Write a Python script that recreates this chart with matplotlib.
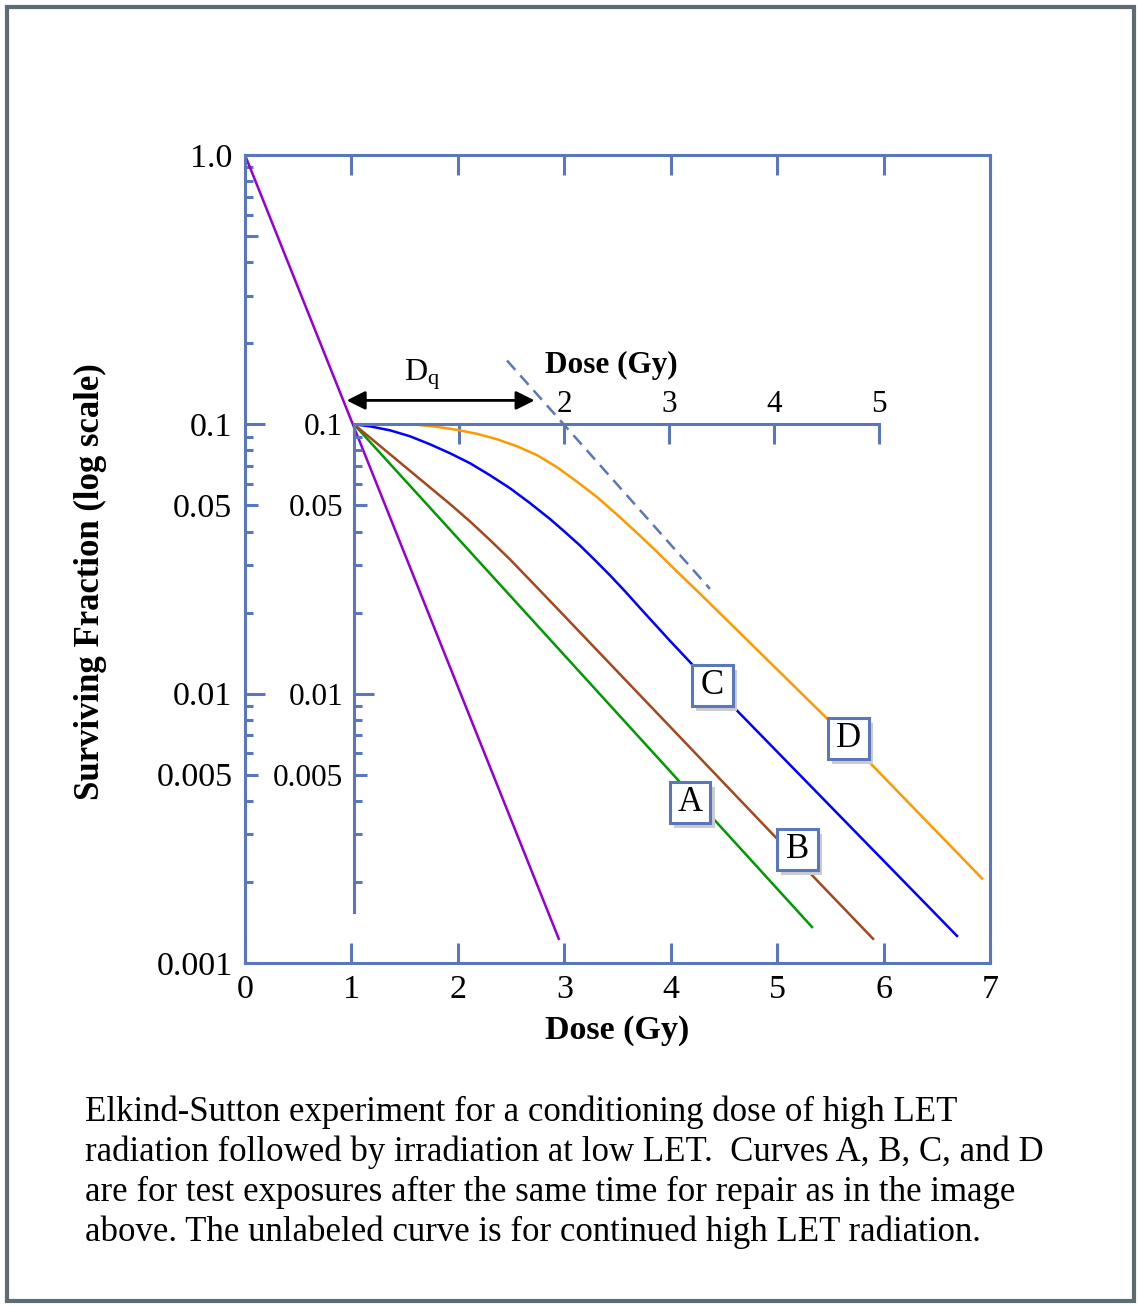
import matplotlib
matplotlib.use('Agg')
import matplotlib.pyplot as plt
import matplotlib.patheffects as pe
from matplotlib.patches import Rectangle
from matplotlib.ticker import NullFormatter

plt.rcParams['font.family'] = ['Liberation Serif', 'DejaVu Serif']
plt.rcParams['mathtext.fontset'] = 'custom'
plt.rcParams['mathtext.rm'] = 'Liberation Serif'
plt.rcParams['mathtext.it'] = 'Liberation Serif:italic'

# --- data ---
# continued high LET curve, main dose axis
high_let_dose = [0, 2.948]
high_let_sf = [1.0, 0.00123]

# test exposures, dose measured on the inner axis
dose_a = [0, 4.362]
sf_a = [0.1, 0.00136]

dose_b = [0, 0.914, 1.105, 1.295, 1.486, 1.676, 1.962, 3.990, 4.943]
sf_b = [0.1, 0.0506, 0.0436, 0.0372, 0.0315, 0.0264, 0.0202, 0.0030, 0.00123]

dose_c = [0, 0.152, 0.343, 0.533, 0.724, 0.914, 1.105, 1.295, 1.486, 1.676,
          1.867, 2.010, 2.152, 2.295, 2.438, 2.581, 2.724, 3.010, 3.219, 3.676,
          5.743]
sf_c = [0.1, 0.0983, 0.0950, 0.0903, 0.0843, 0.0781, 0.0717, 0.0647, 0.0579,
        0.0510, 0.0445, 0.0398, 0.0355, 0.0313, 0.0275, 0.0240, 0.0208, 0.0157,
        0.01286, 0.00843, 0.00126]

dose_d = [0.390, 0.600, 0.790, 0.981, 1.171, 1.362, 1.552, 1.743, 1.933, 2.124,
          2.314, 2.505, 2.695, 2.886, 3.076, 3.295, 4.486, 5.981]
sf_d = [0.1, 0.0996, 0.0979, 0.0954, 0.0922, 0.0880, 0.0829, 0.0768, 0.0693,
        0.0612, 0.0537, 0.0462, 0.0395, 0.0336, 0.0284, 0.0235, 0.00822, 0.00206]

# dashed extrapolation line
dose_tan = [1.457, 3.390]
sf_tan = [0.1726, 0.0245]

curve_names = ['A', 'B', 'C', 'D']
label_dose = [3.20, 4.22, 3.41, 4.705]
label_sf = [0.00395, 0.00264, 0.0107, 0.0068]

dq_start, dq_end, dq_sf = -0.07, 1.72, 0.1227
dq_text_dose, dq_text_sf = 0.65, 0.153

main_yticks = [0.001, 0.005, 0.01, 0.05, 0.1, 0.5, 1.0]
main_ylabels = ['0.001', '0.005', '0.01', '0.05', '0.1', '', '1.0']
inner_yticks = [0.005, 0.01, 0.05, 0.1]
inner_ylabels = ['0.005', '0.01', '0.05', '0.1']
inner_xticks = [1, 2, 3, 4, 5]
inner_xlabels = ['', '2', '3', '4', '5']

caption_lines = [
    'Elkind-Sutton experiment for a conditioning dose of high LET',
    'radiation followed by irradiation at low LET.  Curves A, B, C, and D',
    'are for test exposures after the same time for repair as in the image',
    'above. The unlabeled curve is for continued high LET radiation.',
]

axc = '#5b77bb'
W, H = 1138, 1306

fig = plt.figure(figsize=(W / 100, H / 100), dpi=100)
rect = [245 / W, 1 - 963 / H, 745 / W, 808 / H]
ax = fig.add_axes(rect)

ax.set_yscale('log')
ax.set_xlim(0, 7)
ax.set_ylim(0.001, 1.0)
ax.set_xticks(range(8))
minor = [k * 10.0 ** e for e in (-3, -2, -1) for k in (2, 3, 4, 6, 7, 8, 9)]
ax.set_yticks(main_yticks)
ax.set_yticklabels(main_ylabels)
ax.set_yticks(minor, minor=True)
ax.yaxis.set_minor_formatter(NullFormatter())
for s in ax.spines.values():
    s.set_color(axc)
    s.set_linewidth(2.2)
ax.tick_params(axis='x', direction='in', length=14.5, width=2.2, color=axc,
               top=True, labeltop=False, labelsize=24.5, pad=8)
ax.tick_params(axis='y', which='major', direction='in', length=9.5, width=2.2,
               color=axc, right=False, labelsize=24.5, pad=9)
ax.tick_params(axis='y', which='minor', direction='in', length=5.8, width=2.2,
               color=axc, right=False)
for t, loc in zip(ax.yaxis.get_major_ticks(), main_yticks):
    if loc in (0.01, 0.1):
        t.tick1line.set_markersize(14.5)

ax.plot(high_let_dose, high_let_sf, color='#9400d3', lw=1.8)

ax.set_xlabel('Dose (Gy)', fontsize=24.5, fontweight='bold', va='center')
ax.xaxis.set_label_coords(0.5, -0.083)
ax.set_ylabel('Surviving Fraction (log scale)', fontsize=25, fontweight='bold',
              va='center')
ax.yaxis.set_label_coords(-0.207, 0.4715)

# inner axis for the test dose
ax2 = fig.add_axes(rect)
ax2.patch.set_visible(False)
ax2.set_yscale('log')
ax2.set_xlim(-1.038, 6.057)
ax2.set_ylim(0.001, 1.0)
ax2.spines['bottom'].set_visible(False)
ax2.spines['right'].set_visible(False)
ax2.spines['left'].set_position(('data', 0))
ax2.spines['left'].set_bounds(0.00155, 0.1)
ax2.spines['top'].set_position(('data', 0.1))
ax2.spines['top'].set_bounds(0, 5)
for s in ('left', 'top'):
    ax2.spines[s].set_color(axc)
    ax2.spines[s].set_linewidth(2.2)
ax2.xaxis.set_ticks_position('top')
ax2.set_xticks(inner_xticks)
ax2.set_xticklabels(inner_xlabels)
ax2.yaxis.set_ticks_position('left')
ax2.set_yticks(inner_yticks)
ax2.set_yticklabels(inner_ylabels)
ax2.set_yticks([m for m in minor if m < 0.1], minor=True)
ax2.yaxis.set_minor_formatter(NullFormatter())
ax2.tick_params(axis='x', direction='in', length=14.5, width=2.2, color=axc,
                labelsize=22.5, pad=4)
ax2.tick_params(axis='y', which='major', direction='in', length=9.5, width=2.2,
                color=axc, labelsize=22.5, pad=8)
ax2.tick_params(axis='y', which='minor', direction='in', length=5.8, width=2.2,
                color=axc)
for t, loc in zip(ax2.yaxis.get_major_ticks(), inner_yticks):
    if loc in (0.01, 0.1):
        t.tick1line.set_markersize(14.5)
ax2.xaxis.set_label_position('top')
ax2.set_xlabel('Dose (Gy)', fontsize=22.5, fontweight='bold')
ax2.xaxis.label.set_va('center')
ax2.xaxis.set_label_coords(0.492, 0.740)

ax2.plot(dose_a, sf_a, color='#009900', lw=1.8)
ax2.plot(dose_b, sf_b, color='#a5461c', lw=1.8)
ax2.plot(dose_c, sf_c, color='#0000ff', lw=1.8)
ax2.plot(dose_d, sf_d, color='#ff9900', lw=1.8)
ax2.plot(dose_tan, sf_tan, color=axc, lw=1.8, ls=(0, (5, 3)))

shadow = [pe.SimplePatchShadow(offset=(3.5, -3.5), shadow_rgbFace='#cccccc', alpha=1),
          pe.Normal()]
for name, x, y in zip(curve_names, label_dose, label_sf):
    ax2.plot(x, y, marker='s', ms=29.5, mfc='white', mec=axc, mew=2.2,
             path_effects=shadow, zorder=4)
    ax2.text(x, y, name, ha='center', va='center', fontsize=25, zorder=5)

ax2.annotate('', xy=(dq_start, dq_sf), xytext=(dq_end, dq_sf),
             arrowprops=dict(arrowstyle='<|-|>', color='black', lw=2,
                             mutation_scale=28, shrinkA=0, shrinkB=0))
ax2.text(dq_text_dose, dq_text_sf, r'D$_\mathrm{q}$', fontsize=23,
         ha='center', va='center')

for i, line in enumerate(caption_lines):
    fig.text(85 / W, 1 - (1112 + 40 * i) / H, line, fontsize=25, va='center')

fig.add_artist(Rectangle((7 / W, 5 / H), 1127 / W, 1294 / H, fill=False,
                         ec='#5f6b72', lw=3, transform=fig.transFigure))

fig.savefig('out.png', dpi=100, facecolor='white')
